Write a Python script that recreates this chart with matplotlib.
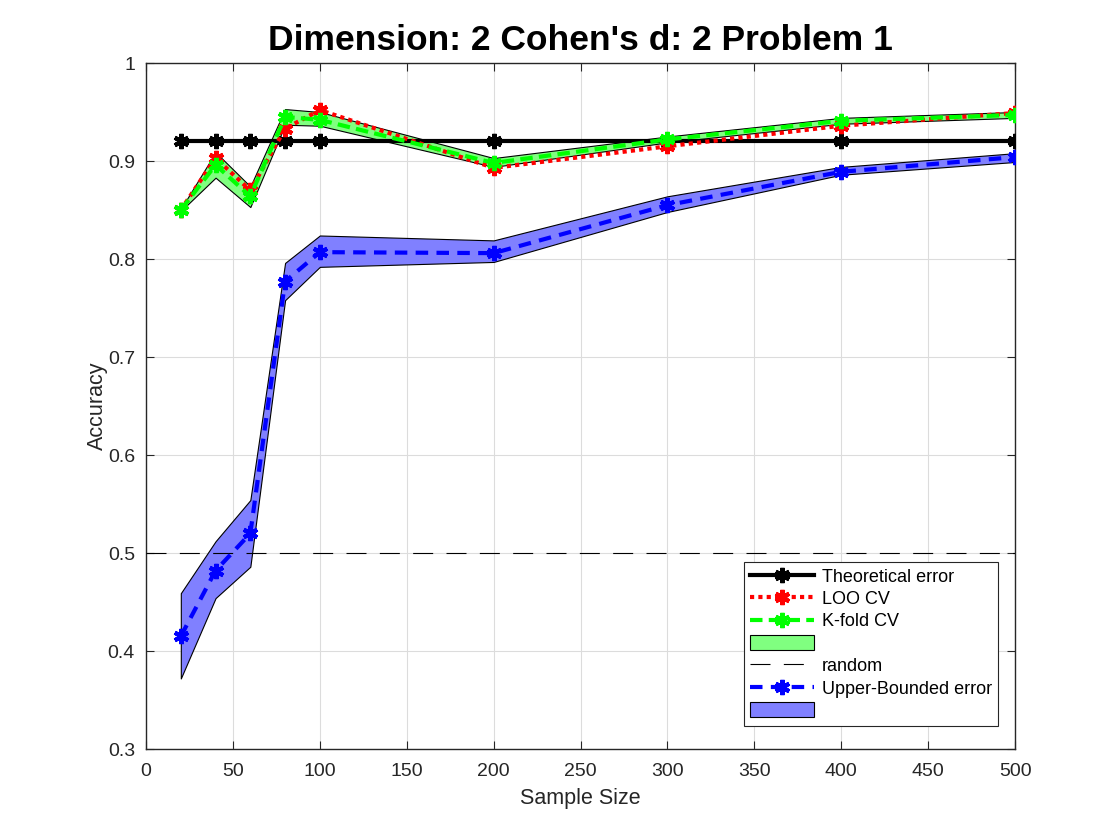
import matplotlib
matplotlib.use("Agg")
import matplotlib.pyplot as plt
from matplotlib.patches import Patch
from matplotlib.lines import Line2D

plt.rcParams['font.family'] = ['Liberation Sans', 'DejaVu Sans']

sample_size = [20, 40, 60, 80, 100, 200, 300, 400, 500]
theoretical = [0.92] * 9
loo_cv = [0.850, 0.903, 0.870, 0.933, 0.952, 0.893, 0.915, 0.936, 0.949]
kfold_cv = [0.850, 0.896, 0.864, 0.945, 0.942, 0.898, 0.922, 0.941, 0.947]
kfold_lo = [0.849, 0.883, 0.853, 0.937, 0.936, 0.894, 0.919, 0.938, 0.944]
kfold_hi = [0.851, 0.909, 0.874, 0.953, 0.950, 0.903, 0.925, 0.944, 0.950]
upper = [0.415, 0.482, 0.520, 0.777, 0.807, 0.806, 0.855, 0.889, 0.904]
upper_lo = [0.372, 0.454, 0.486, 0.758, 0.792, 0.797, 0.848, 0.886, 0.899]
upper_hi = [0.459, 0.512, 0.554, 0.796, 0.824, 0.819, 0.864, 0.894, 0.908]
random_x = [0, 500]
random_y = [0.5, 0.5]

fig = plt.figure(figsize=(11.2, 8.4), dpi=100)
ax = fig.add_axes([0.1304, 0.1083, 0.9063 - 0.1304, 0.925 - 0.1083])

ast = (6, 2, 0)
mk = dict(marker=ast, markersize=11, markeredgewidth=3)

ax.fill_between(sample_size, kfold_lo, kfold_hi, facecolor=(0.5, 1, 0.5),
                edgecolor='black', linewidth=0.8, zorder=2)
ax.plot(sample_size, theoretical, color='black', lw=3, zorder=3, **mk)
ax.plot(sample_size, loo_cv, color='red', lw=3, ls=(0, (1, 1)), zorder=4, **mk)
ax.plot(sample_size, kfold_cv, color=(0, 1, 0), lw=3, ls=(0, (3, 1.5)), zorder=5, **mk)
ax.plot(random_x, random_y, color='black', lw=0.8, ls=(0, (18, 12)), zorder=3)
ax.fill_between(sample_size, upper_lo, upper_hi, facecolor=(0.5, 0.5, 1),
                edgecolor='black', linewidth=0.8, zorder=2)
ax.plot(sample_size, upper, color='blue', lw=3, ls=(0, (3, 2)), zorder=5, **mk)

ax.set_xlim(0, 500)
ax.set_ylim(0.3, 1.0)
ax.set_xticks(range(0, 501, 50))
ax.set_yticks([0.3, 0.4, 0.5, 0.6, 0.7, 0.8, 0.9, 1.0])
ax.set_yticklabels(['0.3', '0.4', '0.5', '0.6', '0.7', '0.8', '0.9', '1'])
ax.grid(True, color='#dcdcdc', lw=0.8)
ax.set_axisbelow(True)
ax.tick_params(direction='in', length=6, labelsize=14, colors='#262626',
               top=True, right=True)
ax.tick_params(axis='x', pad=10)
ax.tick_params(axis='y', pad=8)
for s in ax.spines.values():
    s.set_color('#262626')
    s.set_linewidth(1.0)

ax.set_xlabel('Sample Size', fontsize=15.5, color='#262626', labelpad=6)
ax.set_ylabel('Accuracy', fontsize=15.5, color='#262626', labelpad=0)
ax.set_title("Dimension: 2 Cohen's d: 2 Problem 1", fontsize=25.5, fontweight='bold', pad=9)

handles = [
    Line2D([], [], color='black', lw=3, **mk),
    Line2D([], [], color='red', lw=3, ls=(0, (1, 1)), **mk),
    Line2D([], [], color=(0, 1, 0), lw=3, ls=(0, (3, 1.5)), **mk),
    Patch(facecolor=(0.5, 1, 0.5), edgecolor='black', lw=0.8),
    Line2D([], [], color='black', lw=0.8, ls=(0, (18, 12))),
    Line2D([], [], color='blue', lw=3, ls=(0, (3, 2)), **mk),
    Patch(facecolor=(0.5, 0.5, 1), edgecolor='black', lw=0.8),
]
labels = ['Theoretical error', 'LOO CV', 'K-fold CV', ' ', 'random', 'Upper-Bounded error', ' ']
leg = ax.legend(handles, labels, loc='lower right', bbox_to_anchor=(0.9805, 0.033),
                fontsize=13, frameon=True, fancybox=False, edgecolor='#262626',
                framealpha=1, handlelength=3.5, handleheight=0.9, labelspacing=0.26,
                borderpad=0.35, handletextpad=0.45, borderaxespad=0)
leg.get_frame().set_linewidth(0.8)

fig.savefig('out.png', dpi=100)
